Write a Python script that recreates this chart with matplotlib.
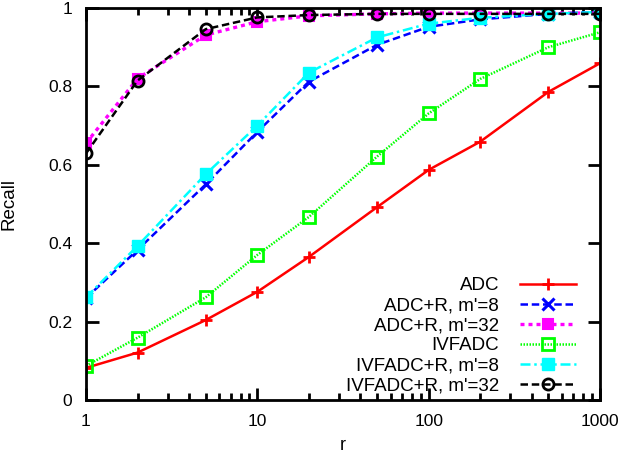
import matplotlib
matplotlib.use("Agg")
import matplotlib.pyplot as plt
from matplotlib.ticker import LogLocator, NullFormatter, FixedLocator

plt.rcParams['font.family'] = ['Liberation Sans', 'DejaVu Sans']

# r values and recall for each method
r = [1, 2, 5, 10, 20, 50, 100, 200, 500, 1000]
adc = [0.082, 0.121, 0.204, 0.276, 0.365, 0.492, 0.587, 0.659, 0.786, 0.859]
adc_r8 = [0.26, 0.383, 0.550, 0.684, 0.812, 0.906, 0.952, 0.971, 0.985, 0.99]
adc_r32 = [0.655, 0.82, 0.931, 0.965, 0.98, 0.985, 0.987, 0.987, 0.987, 0.987]
ivfadc = [0.087, 0.159, 0.262, 0.370, 0.467, 0.621, 0.731, 0.819, 0.900, 0.938]
ivfadc_r8 = [0.262, 0.393, 0.576, 0.700, 0.835, 0.925, 0.960, 0.975, 0.985, 0.99]
ivfadc_r32 = [0.629, 0.815, 0.946, 0.976, 0.982, 0.985, 0.985, 0.985, 0.985, 0.985]

labels = ["ADC", "ADC+R, m'=8", "ADC+R, m'=32", "IVFADC",
          "IVFADC+R, m'=8", "IVFADC+R, m'=32"]

fig = plt.figure(figsize=(6.24, 4.54), dpi=100)
ax = fig.add_axes([0.1378, 0.1189, 0.8237, 0.8635])

lw = 1.8
ax.plot(r, adc, color="#ff0000", ls="-", lw=lw, marker="+", ms=9, mew=2, label=labels[0])
ax.plot(r, adc_r8, color="#0000ff", ls=(0, (3, 1.5)), lw=lw, marker="x", ms=8, mew=2.2, label=labels[1])
ax.plot(r, adc_r32, color="#ff00ff", ls=(0, (1.2, 1.2)), lw=lw + 0.6, marker="s", ms=7, mew=1.5,
        label=labels[2])
ax.plot(r, ivfadc, color="#00ff00", ls=(0, (0.6, 0.6)), lw=lw, marker="s", ms=9, mfc="none",
        mew=2, label=labels[3])
ax.plot(r, ivfadc_r8, color="#00ffff", ls=(0, (4, 1.5, 1, 1.5)), lw=lw, marker="s", ms=8,
        label=labels[4])
ax.plot(r, ivfadc_r32, color="#000000", ls=(0, (3, 1.5)), lw=lw, marker="o", ms=8, mfc="none",
        mew=2, label=labels[5])

ax.set_xscale("log")
ax.set_xlim(1, 1000)
ax.set_ylim(0, 1)
ax.xaxis.set_major_locator(FixedLocator([1, 10, 100, 1000]))
ax.xaxis.set_minor_locator(LogLocator(base=10, subs=range(2, 10)))
ax.xaxis.set_minor_formatter(NullFormatter())
ax.set_xticklabels(["1", "10", "100", "1000"])
ax.set_yticks([0, 0.2, 0.4, 0.6, 0.8, 1])
ax.set_yticklabels(["0", "0.2", "0.4", "0.6", "0.8", "1"])

ax.tick_params(which="both", direction="in", top=True, right=True, width=2,
               labelsize=12.5, pad=10)
ax.tick_params(which="major", length=9)
ax.tick_params(which="minor", length=5)
for s in ax.spines.values():
    s.set_linewidth(2)

ax.set_xlabel("r", fontsize=13, labelpad=6)
ax.set_ylabel("Recall", fontsize=13.5, labelpad=22)

ax.legend(loc="lower right", frameon=False, markerfirst=False, fontsize=13.5,
          handlelength=3.0, labelspacing=0.15, handletextpad=1.1,
          bbox_to_anchor=(0.968, -0.004), borderaxespad=0)

fig.savefig("out.png", dpi=100)
